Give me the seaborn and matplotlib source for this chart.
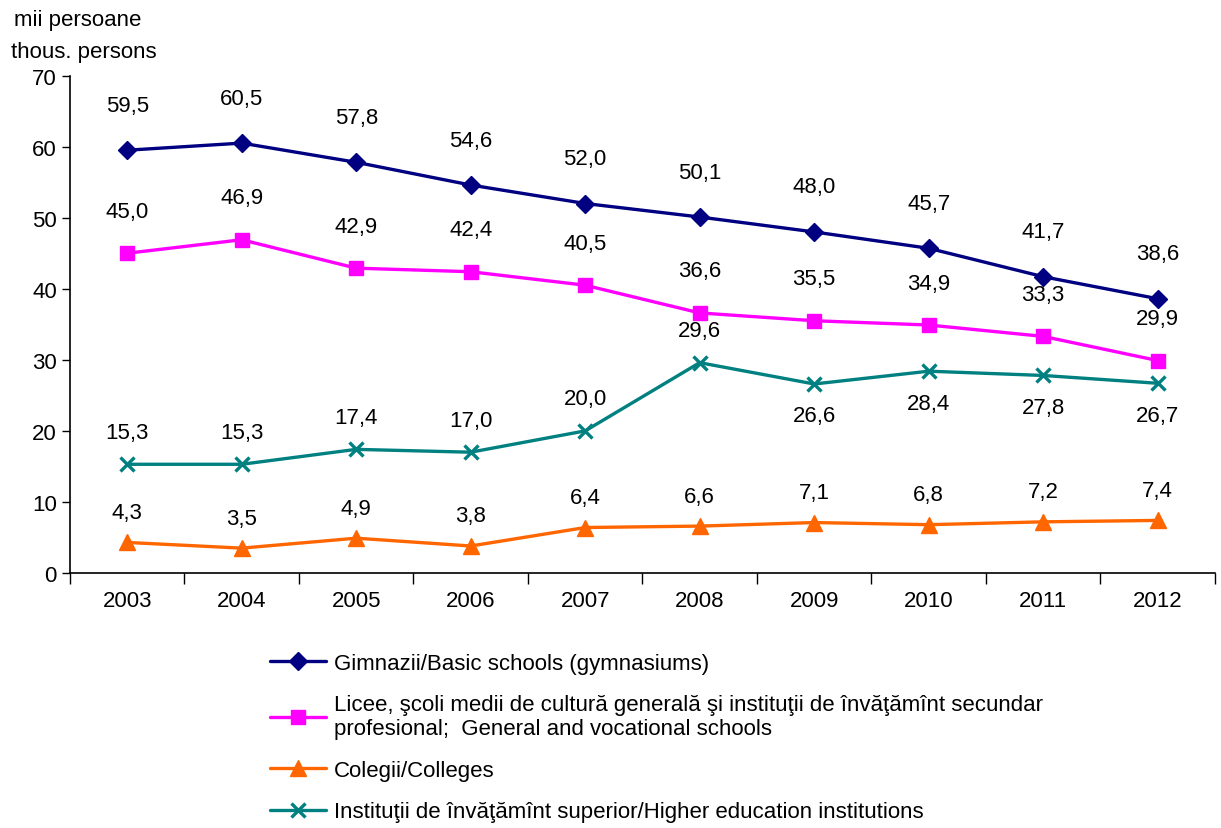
import seaborn as sns
import pandas as pd
import matplotlib.pyplot as plt
import numpy as np

years = ['2003', '2004', '2005', '2006', '2007', '2008', '2009', '2010', '2011', '2012']
gimnazii = [59.5, 60.5, 57.8, 54.6, 52.0, 50.1, 48.0, 45.7, 41.7, 38.6]
licee = [45.0, 46.9, 42.9, 42.4, 40.5, 36.6, 35.5, 34.9, 33.3, 29.9]
colegii = [4.3, 3.5, 4.9, 3.8, 6.4, 6.6, 7.1, 6.8, 7.2, 7.4]
institutii = [15.3, 15.3, 17.4, 17.0, 20.0, 29.6, 26.6, 28.4, 27.8, 26.7]

labels = ['Gimnazii/Basic schools (gymnasiums)',
          'Licee, şcoli medii de cultură generală şi instituţii de învăţămînt secundar\nprofesional;  General and vocational schools',
          'Colegii/Colleges',
          'Instituţii de învăţămînt superior/Higher education institutions']

sns.set_theme(style='white')
plt.rcParams['font.family'] = ['Liberation Sans Narrow', 'Liberation Sans', 'DejaVu Sans']
plt.rcParams['text.color'] = 'black'
plt.rcParams['xtick.color'] = 'black'
plt.rcParams['ytick.color'] = 'black'
plt.rcParams['axes.labelcolor'] = 'black'
fs = 16

series = [
    (gimnazii, labels[0], '#000080', 'D', 9, [1] * 10),
    (licee, labels[1], '#FF00FF', 's', 10, [1] * 10),
    (colegii, labels[2], '#FF6600', '^', 11, [1] * 10),
    (institutii, labels[3], '#008080', 'x', 10, [1] * 6 + [-1] * 4),
]
offsets = [45, 42, 30, 32]

fig = plt.figure(figsize=(12.21, 8.29), dpi=100)
ax = fig.add_axes([0.0573, 0.3076, 0.9377, 0.6])
pos = np.arange(len(years))

for (vals, lab, col, mk, ms, side), off in zip(series, offsets):
    df = pd.DataFrame({'x': pos, 'y': vals})
    sns.lineplot(data=df, x='x', y='y', ax=ax, color=col, marker=mk, markersize=ms,
                 markeredgecolor=col, markeredgewidth=2.4 if mk == 'x' else 1,
                 linewidth=2.4, label=lab)
    for xi, v, s in zip(pos, vals, side):
        ax.annotate(f'{v:.1f}'.replace('.', ','), (xi, v), xytext=(0, s * off),
                    textcoords='offset pixels', ha='center', va='center', fontsize=fs)

ax.set_xlim(-0.5, len(years) - 0.5)
ax.set_ylim(0, 70)
ax.set_yticks(range(0, 71, 10))
ax.set_xticks(pos)
ax.set_xticklabels(years)
ax.set_xticks(np.arange(-0.5, len(years), 1), minor=True)
ax.tick_params(axis='x', which='major', length=0, pad=12, labelsize=fs)
ax.tick_params(axis='x', which='minor', length=8, width=1, color='black', direction='out', bottom=True)
ax.tick_params(axis='y', length=6, width=1, color='black', direction='out', left=True, labelsize=fs)
ax.set_xlabel('')
ax.set_ylabel('')
for sp in ['top', 'right']:
    ax.spines[sp].set_visible(False)
for sp in ['left', 'bottom']:
    ax.spines[sp].set_color('black')
    ax.spines[sp].set_linewidth(1.2)

fig.text(0.064, 0.975, 'mii persoane', ha='center', va='center', fontsize=fs)
fig.text(0.069, 0.937, 'thous. persons', ha='center', va='center', fontsize=fs)

handles, labs = ax.get_legend_handles_labels()
ax.get_legend().remove()
fig.legend(handles, labs, loc='upper left', bbox_to_anchor=(0.214, 0.222), frameon=False,
           fontsize=fs, handlelength=2.5, handletextpad=0.35, labelspacing=0.92,
           borderaxespad=0)

plt.savefig('out.png', dpi=100)
